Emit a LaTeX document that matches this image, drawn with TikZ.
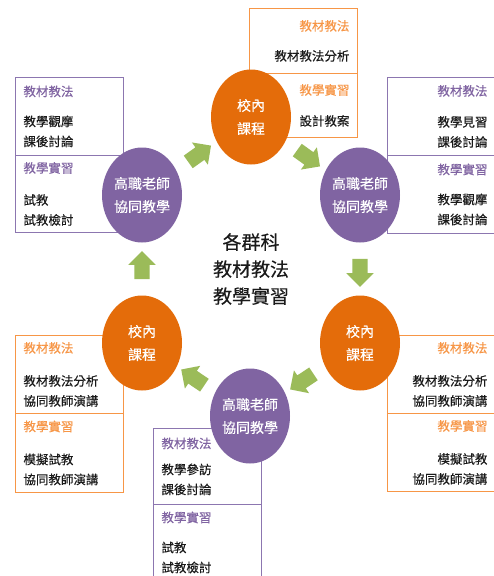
\documentclass[tikz,border=0pt]{standalone}
\usepackage{fontspec}
\setmainfont{Noto Sans CJK TC}[UprightFeatures={FakeBold=0.25}]
\usetikzlibrary{shapes.geometric,shapes.arrows}
\definecolor{corange}{HTML}{E46C0A}
\definecolor{cpurple}{HTML}{8064A2}
\definecolor{cgreen}{HTML}{9BBB59}
\definecolor{borange}{HTML}{F79646}
\definecolor{bpurple}{HTML}{8C76B0}
\definecolor{ink}{HTML}{1A1A1A}
\begin{document}
\begin{tikzpicture}[x=1pt,y=-1pt,
  circ/.style={ellipse, minimum width=80pt, minimum height=95pt, inner sep=0pt, text=white, font=\fontsize{14}{23}\selectfont, align=center},
  ocirc/.style={circ, fill=corange},
  pcirc/.style={circ, fill=cpurple},
  half/.style={draw, line width=0.9pt, minimum width=108pt, inner xsep=8pt, inner ysep=0pt, text width=92pt, font=\fontsize{12.5}{20}\selectfont, text=ink},
  obox/.style={half, draw=borange},
  pbox/.style={half, draw=bpurple},
  blockarrow/.style={single arrow, fill=cgreen, minimum height=28pt, inner xsep=0pt, inner ysep=7.5pt, single arrow head extend=6pt, sloped, allow upside down},
]
\useasboundingbox (0,0) rectangle (494,576);
\fill[white] (0,0) rectangle (494,576);
\clip (0,0) rectangle (494,576);

% boxes
\node[pbox, anchor=north west, minimum height=78pt, align=left] (tlu) at (15,77) {\textcolor{cpurple}{教材教法}\\[10pt]教學觀摩\\課後討論};
\node[pbox, anchor=north west, minimum height=77pt, align=left] (tll) at (15,155) {\textcolor{cpurple}{教學實習}\\[12pt]試教\\試教檢討};

\node[obox, anchor=north west, minimum height=65pt, align=right] (tu) at (249,8) {\textcolor{borange}{教材教法}\\[10pt]教材教法分析};
\node[obox, anchor=north west, minimum height=64pt, align=right] (tl) at (249,73) {\textcolor{borange}{教學實習}\\[11pt]設計教案};

\node[pbox, anchor=north west, minimum height=78pt, align=right] (tru) at (387,77) {\textcolor{cpurple}{教材教法}\\[11pt]教學見習\\課後討論};
\node[pbox, anchor=north west, minimum height=78pt, align=right] (trl) at (387,155) {\textcolor{cpurple}{教學實習}\\[10pt]教學觀摩\\課後討論};

\node[obox, anchor=north west, minimum height=78pt, align=left] (lu) at (15,335) {\textcolor{borange}{教材教法}\\[13pt]教材教法分析\\協同教師演講};
\node[obox, anchor=north west, minimum height=79pt, align=left] (ll) at (15,413) {\textcolor{borange}{教學實習}\\[13pt]模擬試教\\協同教師演講};

\node[obox, anchor=north west, minimum height=78pt, align=right] (ru) at (387,335) {\textcolor{borange}{教材教法}\\[13pt]教材教法分析\\協同教師演講};
\node[obox, anchor=north west, minimum height=78pt, align=right] (rl) at (387,413) {\textcolor{borange}{教學實習}\\[13pt]模擬試教\\協同教師演講};

\node[pbox, anchor=north west, minimum height=76pt, align=left] (bu) at (153,428) {\textcolor{cpurple}{教材教法}\\[6pt]教學參訪\\課後討論};
\node[pbox, anchor=north west, minimum height=76pt, align=left] (bl) at (153,504) {\textcolor{cpurple}{教學實習}\\[10pt]試教\\試教檢討};

% center
\node[font=\fontsize{19}{27}\selectfont, align=center, text=ink] (hub) at (251,269) {各群科\\教材教法\\教學實習};

% circles
\node[ocirc] (c1) at (251,117) {校內\\課程};
\node[pcirc] (c2) at (360,195) {高職老師\\協同教學};
\node[ocirc] (c3) at (360,343) {校內\\課程};
\node[pcirc] (c4) at (250,416) {高職老師\\協同教學};
\node[ocirc] (c5) at (142,343) {校內\\課程};
\node[pcirc] (c6) at (142,195) {高職老師\\協同教學};

% arrows
\path (c6) -- node[blockarrow] (a1) {} (c1);
\path (c1) -- node[blockarrow] (a2) {} (c2);
\path (c2) -- node[blockarrow] (a3) {} (c3);
\path (c3) -- node[blockarrow] (a4) {} (c4);
\path (c4) -- node[blockarrow] (a5) {} (c5);
\path (c5) -- node[blockarrow] (a6) {} (c6);
\end{tikzpicture}
\end{document}
